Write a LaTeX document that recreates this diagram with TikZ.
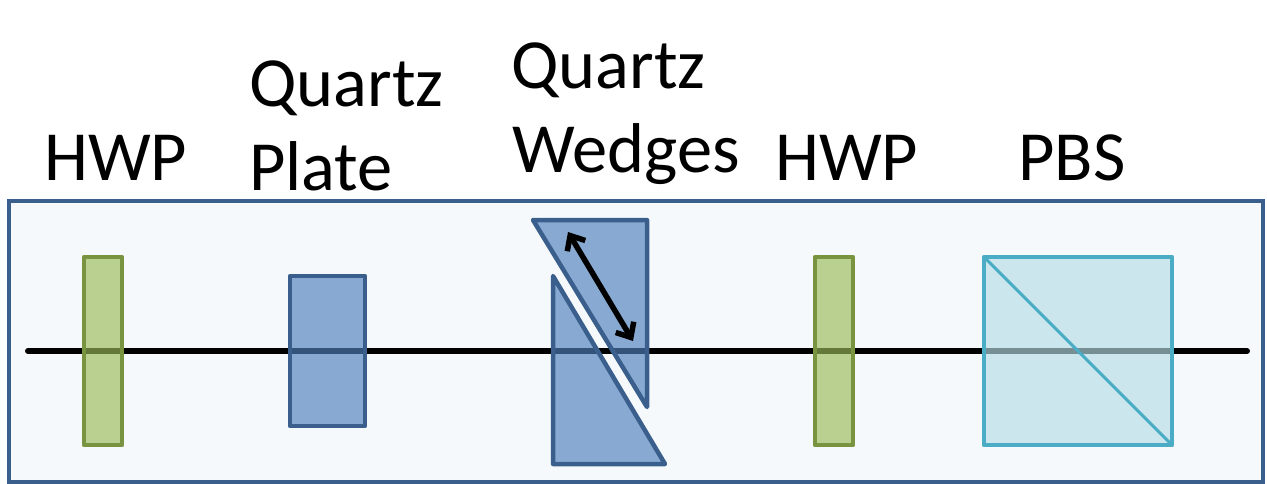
\documentclass[tikz,border=0pt]{standalone}
\usepackage{fontspec}
\setmainfont{Carlito}
\usetikzlibrary{arrows.meta}
\definecolor{framecol}{HTML}{3A5F8C}
\definecolor{backcol}{HTML}{F5F9FC}
\definecolor{hwpcol}{HTML}{9BBB59}
\definecolor{hwpline}{HTML}{799440}
\definecolor{quartzcol}{HTML}{4F81BD}
\definecolor{pbscol}{HTML}{B5DCE6}
\definecolor{pbsline}{HTML}{4BACC6}
\tikzset{
  caption/.style={anchor=base west,inner sep=0pt,font=\fontsize{70.5}{70.5}\selectfont},
  optic/.style={draw,line width=4.5pt,line join=round,fill opacity=0.65,inner sep=0pt,outer sep=0pt},
  hwpplate/.style={optic,draw=hwpline,fill=hwpcol,minimum width=38pt,minimum height=188pt},
  quartzpart/.style={draw=framecol,line width=4.5pt,line join=round,fill=quartzcol,fill opacity=0.65}
}

\begin{document}
\begin{tikzpicture}[x=1pt,y=-1pt]
  \useasboundingbox (0,0) rectangle (1267,484);
  \node[draw=framecol,fill=backcol,line width=4.5pt,minimum width=1254pt,minimum height=281pt,inner sep=0pt] (box) at (636,341.5) {};
  \coordinate (start) at (28,351);
  \coordinate (end) at (1247,351);
  \draw[line width=6pt,line cap=round] (start) -- (end);
  \foreach \name/\x in {hwpa/103, hwpb/834}{
    \node[hwpplate] (\name) at (\x,351) {};
  }
  \node[optic,draw=framecol,fill=quartzcol,minimum width=75pt,minimum height=150pt] (plate) at (327.5,351) {};
  % two wedges
  \coordinate (u0) at (533,220);
  \coordinate (u1) at (647,220);
  \coordinate (u2) at (647,407);
  \coordinate (l0) at (553,276);
  \coordinate (l1) at (553,464);
  \coordinate (l2) at (665,464);
  \draw[quartzpart] (u0) -- (u1) -- (u2) -- cycle;
  \draw[quartzpart] (l0) -- (l1) -- (l2) -- cycle;
  \coordinate (t0) at (568,232);
  \coordinate (t1) at (633,341);
  \draw[line width=5.5pt,line cap=round,
    {Straight Barb[length=12pt,width=21pt,line width=5.5pt]}-{Straight Barb[length=12pt,width=21pt,line width=5.5pt]}] (t0) -- (t1);
  \node[optic,draw=pbsline,fill=pbscol,minimum width=188pt,minimum height=188pt] (pbs) at (1078,351) {};
  \draw[pbsline,line width=3pt] (pbs.north west) -- (pbs.south east);
  \foreach \name/\x/\y/\txt in {la/44/181/HWP, lb/249/107/Quartz, lc/249/190/Plate, ld/511/89/Quartz, le/512/172/Wedges, lf/775/181/HWP, lg/1018/181/PBS}{
    \node[caption] (\name) at (\x,\y) {\txt};
  }
\end{tikzpicture}
\end{document}
